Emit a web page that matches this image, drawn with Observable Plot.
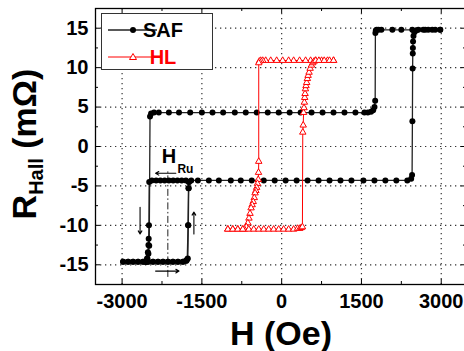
<!DOCTYPE html>
<html><head><meta charset="utf-8">
<script src="https://cdn.jsdelivr.net/npm/d3@7"></script>
<script src="https://cdn.jsdelivr.net/npm/@observablehq/plot@0.6"></script>
<style>
html,body{margin:0;padding:0;background:#fff;overflow:hidden;}
svg{display:block;font-family:"Liberation Sans",Arial,Helvetica,sans-serif;}
</style></head><body><div id="chart"></div>
<script>
// ---- tick values ----
const xMajor = [-3000, -1500, 0, 1500, 3000];
const xMinor = [-2250, -750, 750, 2250];
const yMajor = [-15, -10, -5, 0, 5, 10, 15];
const yMinor = [-12.5, -7.5, -2.5, 2.5, 7.5, 12.5];

// ---- SAF (black) : [H (Oe), R (mOhm)] ----
const safDown = [[2981,14.8],[2700,14.8],[2456,14.8],[2250,14.8],[2081,14.8],[1875,14.8],[1820,14.8],[1785,14.8],[1770,14.7],[1762,14.4],
  [1758,5.8],[1745,5.0],[1720,4.6],[1680,4.4],[1620,4.3],[1556,4.3],[1387,4.3],[1181,4.3],[975,4.3],[769,4.3],[562,4.3],[356,4.3],[150,4.3],
  [-56,4.3],[-262,4.3],[-469,4.3],[-675,4.3],[-881,4.3],[-1100,4.3],[-1300,4.3],[-1500,4.3],[-1720,4.3],[-1930,4.3],[-2120,4.3],[-2310,4.3],
  [-2400,4.3],[-2455,4.2],[-2475,3.8],[-2490,-12.6],[-2505,-13.6],[-2525,-14.2],[-2560,-14.6],[-2606,-14.6],[-2700,-14.6],[-2794,-14.6],[-2887,-14.6],[-2981,-14.6]];
const safUp = [[-2981,-14.6],[-2887,-14.6],[-2794,-14.6],[-2700,-14.6],[-2606,-14.6],[-2512,-14.6],[-2419,-14.6],[-2325,-14.6],[-2231,-14.6],
  [-2137,-14.6],[-2044,-14.6],[-1950,-14.6],[-1856,-14.6],[-1790,-14.5],[-1765,-14.2],[-1755,-10.0],[-1748,-5.3],[-1742,-4.5],[-1700,-4.3],
  [-1575,-4.3],[-1369,-4.3],[-1181,-4.3],[-956,-4.3],[-769,-4.3],[-562,-4.3],[-337,-4.3],[-131,-4.3],[75,-4.3],[281,-4.3],[487,-4.3],[694,-4.3],
  [900,-4.3],[1106,-4.3],[1312,-4.3],[1537,-4.3],[1744,-4.3],[1950,-4.3],[2156,-4.3],[2362,-4.3],[2435,-4.1],[2452,-3.6],[2458,3.2],[2462,9.9],
  [2465,11.8],[2467,12.5],[2470,13.3],[2478,14.0],[2495,14.5],[2530,14.7],[2569,14.8],[2662,14.8],[2756,14.8],[2831,14.8],[2887,14.8],[2981,14.8]];
const safMinor = [[-2540,-14.6],[-2512,-14.6],[-2419,-14.6],[-2325,-14.6],[-2231,-14.6],[-2137,-14.6],[-2044,-14.6],[-1950,-14.6],[-1856,-14.6],
  [-1800,-14.5],[-1775,-14.3],[-1760,-10.0],[-1752,-5.3],[-1745,-4.5],[-1800,-4.3],[-1880,-4.3],[-1960,-4.3],[-2040,-4.3],[-2120,-4.3],[-2200,-4.3],
  [-2280,-4.3],[-2360,-4.3],[-2440,-4.3],[-2490,-4.5],[-2495,-10.0],[-2500,-11.7],[-2505,-12.5],[-2515,-13.4],[-2530,-14.2],[-2560,-14.6]];

// ---- HL (red) ----
const hlDown = [[975,10.9],[862,10.9],[750,10.9],[637,10.9],[544,10.9],[450,10.9],[337,10.9],[225,10.9],[131,10.9],[19,10.9],[-94,10.9],
  [-206,10.9],[-300,10.9],[-356,10.9],[-395,10.9],[-420,10.8],[-431,10.6],[-431,-1.9],[-435,-3.3],[-440,-4.2],[-455,-4.7],[-470,-5.2],
  [-485,-5.6],[-500,-5.9],[-515,-6.5],[-535,-7.0],[-555,-7.4],[-575,-7.8],[-595,-8.5],[-615,-9.1],[-635,-9.7],[-665,-10.2],[-700,-10.5],
  [-731,-10.5],[-825,-10.5],[-919,-10.5],[-1012,-10.5]];
const hlUp = [[-1012,-10.5],[-919,-10.5],[-825,-10.5],[-731,-10.5],[-619,-10.5],[-525,-10.5],[-431,-10.5],[-337,-10.5],[-244,-10.5],
  [-150,-10.5],[-56,-10.5],[37,-10.5],[131,-10.5],[225,-10.5],[300,-10.4],[340,-10.4],[370,-10.3],[390,-10.2],[397,1.8],[405,2.7],[412,4.3],
  [420,4.9],[427,5.6],[433,6.2],[440,6.7],[447,7.3],[458,7.7],[470,8.1],[483,8.6],[497,9.0],[515,9.4],[535,9.9],[560,10.3],[585,10.6],
  [610,10.8],[640,10.9],[700,10.9],[800,10.9],[900,10.9],[975,10.9]];

// ---- annotations ----
const hRu = -2140;
const arrows = [
  {x1:-2662, y1:-7.7, x2:-2662, y2:-11.1},
  {x1:-1650, y1:-11.1, x2:-1650, y2:-8.3},
  {x1:-1990, y1:-3.4, x2:-2370, y2:-3.4},
  {x1:-2370, y1:-15.8, x2:-1930, y2:-15.8}
];

const toRows = (arr, b) => arr.map(([h, r]) => ({h, r, b}));
const saf = [...toRows(safDown,"d"), ...toRows(safUp,"u"), ...toRows(safMinor,"m")];
const hl = [...toRows(hlDown,"d"), ...toRows(hlUp,"u")];

const W = 467, H = 351, mL = 95, mR = 1, mT = 8, mB = 67;
const iw = W - mL - mR, ih = H - mT - mB;
const grid = {stroke:"#333", strokeDasharray:"1.3,3.7", strokeWidth:1.2};

const chart = Plot.plot({
  width: W, height: H, marginLeft: mL, marginRight: mR, marginTop: mT, marginBottom: mB,
  x: {domain: [-3500, 3475]},
  y: {domain: [-17.5, 17.5]},
  style: {fontFamily: '"Liberation Sans", Arial, Helvetica, sans-serif', background: "white", maxWidth: "none"},
  marks: [
    Plot.ruleX(xMajor, grid),
    Plot.ruleY(yMajor, grid),
    Plot.ruleX([hRu], {y1: -16.6, y2: -3.0, stroke: "#222", strokeWidth: 1, strokeDasharray: "7,2.5,1.5,2.5"}),
    Plot.line(saf, {x: "h", y: "r", z: "b", stroke: "#222", strokeWidth: 1.3}),
    Plot.dot(saf, {x: "h", y: "r", r: 3, fill: "black"}),
    Plot.line(hl, {x: "h", y: "r", z: "b", stroke: "red", strokeWidth: 1}),
    Plot.dot(hl, {x: "h", y: "r", symbol: "triangle", r: 2.4, stroke: "red", fill: "white", strokeWidth: 1}),
    Plot.arrow(arrows, {x1: "x1", y1: "y1", x2: "x2", y2: "y2", stroke: "black", strokeWidth: 1.1, headLength: 5}),
    Plot.text(["H"], {x: -2119, y: -1.3, text: d => d, fontSize: 20, fontWeight: "bold", fill: "black"}),
    Plot.text(["Ru"], {x: -1809, y: -2.9, text: d => d, fontSize: 12, fontWeight: "bold", fill: "black"}),
    // inward ticks
    Plot.ruleX(xMajor, {insetTop: ih - 5, stroke: "black"}),
    Plot.ruleX(xMinor, {insetTop: ih - 3, stroke: "black"}),
    Plot.ruleX(xMajor, {insetBottom: ih - 5, stroke: "black"}),
    Plot.ruleX(xMinor, {insetBottom: ih - 3, stroke: "black"}),
    Plot.ruleY(yMajor, {insetRight: iw - 5, stroke: "black"}),
    Plot.ruleY(yMinor, {insetRight: iw - 3, stroke: "black"}),
    Plot.ruleY(yMajor, {insetLeft: iw - 5, stroke: "black"}),
    Plot.ruleY(yMinor, {insetLeft: iw - 3, stroke: "black"}),
    Plot.frame({stroke: "black", strokeWidth: 1.3}),
    Plot.axisX({ticks: xMajor, tickSize: 0, tickPadding: 9, fontSize: 20, fontWeight: "bold", tickFormat: d => String(d), label: null}),
    Plot.axisY({ticks: yMajor, tickSize: 0, tickPadding: 7, fontSize: 20, fontWeight: "bold", tickFormat: d => String(d), label: null})
  ]
});
chart.style.maxWidth = "none";
document.getElementById("chart").appendChild(chart);

// ---- legend and axis titles ----
const svg = d3.select(chart);
const ff = '"Liberation Sans", Arial, Helvetica, sans-serif';
const lg = svg.append("g");
lg.append("rect").attr("x", 101.5).attr("y", 13.5).attr("width", 111).attr("height", 56)
  .attr("fill", "white").attr("stroke", "#333").attr("stroke-width", 1);
lg.append("line").attr("x1", 108).attr("x2", 157).attr("y1", 30).attr("y2", 30).attr("stroke", "#222").attr("stroke-width", 1.3);
lg.append("circle").attr("cx", 133).attr("cy", 30).attr("r", 3).attr("fill", "black");
lg.append("text").attr("x", 163).attr("y", 37).attr("font-size", 20).attr("font-weight", "bold")
  .attr("font-family", ff).attr("fill", "black").text("SAF");
lg.append("line").attr("x1", 108).attr("x2", 157).attr("y1", 57).attr("y2", 57).attr("stroke", "red").attr("stroke-width", 1);
lg.append("path").attr("d", "M133,53.5L136.5,59.5L129.5,59.5Z").attr("fill", "white").attr("stroke", "red").attr("stroke-width", 1);
lg.append("text").attr("x", 163).attr("y", 64).attr("font-size", 20).attr("font-weight", "bold")
  .attr("font-family", ff).attr("fill", "red").text("HL");

svg.append("text").attr("x", 281).attr("y", 345).attr("text-anchor", "middle")
  .attr("font-size", 34).attr("font-weight", "bold").attr("font-family", ff).attr("fill", "black").text("H (Oe)");

const yl = svg.append("text").attr("transform", "translate(36,144) rotate(-90)").attr("text-anchor", "middle")
  .attr("font-size", 34).attr("font-weight", "bold").attr("font-family", ff).attr("fill", "black");
yl.append("tspan").text("R");
yl.append("tspan").attr("dy", 7).attr("font-size", 20).text("Hall");
yl.append("tspan").attr("dy", -7).text(" (mΩ)");
</script>
</body></html>
